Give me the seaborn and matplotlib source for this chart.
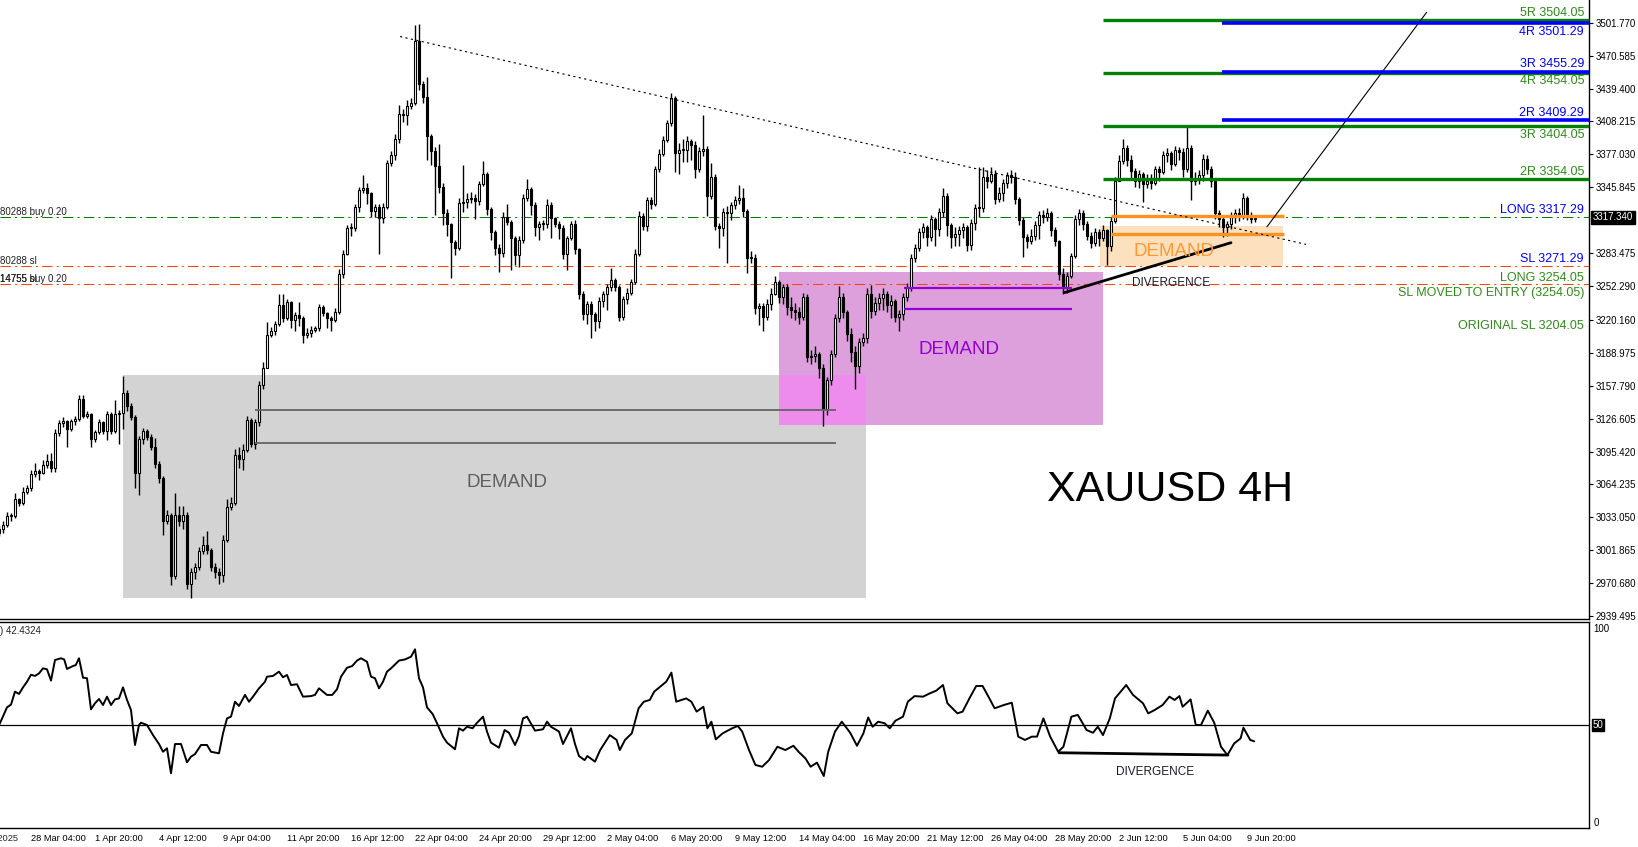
import matplotlib.pyplot as plt
import seaborn as sns
import numpy as np
import pandas as pd
from matplotlib.patches import Rectangle

sns.set_style("white")
plt.rcParams['font.family'] = ['Liberation Sans', 'DejaVu Sans']

# %% XAUUSD 4H candles (bar 0 = 26 Mar 20:00)
closes = [
    3022, 3026, 3034, 3034, 3050, 3047, 3057, 3061, 3074, 3077, 3075, 3083,
    3086, 3080, 3113, 3122, 3124, 3117, 3124, 3126, 3145, 3129, 3131, 3107,
    3114, 3123, 3115, 3131, 3115, 3131, 3132, 3151, 3139, 3128, 3075, 3107,
    3115, 3109, 3100, 3084, 3070, 3030, 3035, 2977, 3035, 3030, 3035, 2970,
    2981, 2986, 3001, 3007, 3002, 2986, 2981, 2978, 3012, 3043, 3047, 3092,
    3088, 3097, 3125, 3103, 3123, 3158, 3175, 3206, 3210, 3216, 3234, 3222,
    3237, 3220, 3225, 3222, 3206, 3208, 3211, 3212, 3232, 3227, 3222, 3220,
    3228, 3264, 3283, 3307, 3307, 3327, 3343, 3345, 3340, 3323, 3327, 3317,
    3327, 3369, 3376, 3392, 3415, 3414, 3423, 3426, 3484, 3444, 3431, 3394,
    3380, 3366, 3346, 3321, 3311, 3294, 3288, 3331, 3332, 3335, 3336, 3333,
    3349, 3358, 3325, 3303, 3288, 3284, 3318, 3313, 3298, 3282, 3296, 3336,
    3344, 3329, 3308, 3311, 3311, 3329, 3317, 3311, 3307, 3283, 3298, 3311,
    3287, 3245, 3226, 3235, 3226, 3219, 3238, 3245, 3251, 3258, 3251, 3223,
    3240, 3246, 3256, 3283, 3319, 3309, 3334, 3330, 3363, 3377, 3391, 3407,
    3430, 3378, 3381, 3381, 3390, 3386, 3363, 3380, 3382, 3338, 3356, 3309,
    3307, 3322, 3321, 3329, 3334, 3336, 3323, 3279, 3279, 3231, 3233, 3223, 3235,
    3245, 3256, 3242, 3251, 3232, 3230, 3228, 3223, 3242, 3185, 3186, 3188,
    3175, 3136, 3163, 3188, 3222, 3242, 3228, 3207, 3190, 3176, 3199, 3203,
    3245, 3229, 3236, 3241, 3245, 3234, 3238, 3223, 3226, 3242, 3251, 3279,
    3288, 3303, 3308, 3299, 3316, 3306, 3322, 3338, 3310, 3299, 3302, 3305,
    3308, 3291, 3312, 3326, 3326, 3356, 3352, 3358, 3335, 3340, 3350, 3357,
    3356, 3335, 3315, 3299, 3295, 3300, 3310, 3320, 3318, 3321, 3305, 3295,
    3264, 3251, 3262, 3281, 3316, 3321, 3311, 3300, 3293, 3303, 3298, 3305,
    3290, 3314, 3352, 3371, 3383, 3372, 3361, 3352, 3358, 3349, 3352, 3350,
    3363, 3360, 3376, 3378, 3368, 3381, 3379, 3363, 3383, 3352, 3354, 3357,
    3373, 3363, 3352, 3321, 3316, 3308, 3311, 3318, 3321, 3319, 3336, 3319,
    3316, 3317,
]
highs = [
    3026, 3030, 3038, 3037, 3056, 3051, 3062, 3064, 3078, 3085, 3079, 3087,
    3093, 3094, 3117, 3125, 3128, 3125, 3126, 3129, 3149, 3149, 3134, 3132,
    3116, 3126, 3124, 3134, 3133, 3144, 3135, 3167, 3154, 3141, 3130, 3110,
    3118, 3117, 3112, 3108, 3086, 3072, 3040, 3037, 3056, 3044, 3044, 3038,
    2985, 2990, 3005, 3015, 3020, 3004, 2990, 2985, 3016, 3050, 3052, 3098,
    3100, 3103, 3129, 3127, 3126, 3162, 3180, 3218, 3213, 3219, 3245, 3245,
    3240, 3238, 3228, 3237, 3224, 3212, 3214, 3214, 3235, 3234, 3228, 3224,
    3231, 3268, 3286, 3310, 3312, 3330, 3346, 3357, 3350, 3341, 3330, 3330,
    3331, 3372, 3380, 3396, 3424, 3420, 3429, 3430, 3500, 3501, 3447, 3450,
    3396, 3384, 3387, 3350, 3325, 3312, 3296, 3336, 3367, 3340, 3341, 3339,
    3352, 3371, 3360, 3327, 3305, 3292, 3322, 3330, 3315, 3300, 3300, 3339,
    3354, 3346, 3332, 3314, 3315, 3335, 3332, 3318, 3314, 3310, 3300, 3314,
    3315, 3288, 3248, 3238, 3238, 3228, 3242, 3248, 3254, 3269, 3260, 3253,
    3243, 3250, 3259, 3287, 3323, 3321, 3337, 3337, 3366, 3382, 3394, 3410,
    3435, 3432, 3388, 3392, 3394, 3392, 3390, 3384, 3414, 3385, 3369, 3358,
    3312, 3326, 3328, 3332, 3338, 3348, 3345, 3325, 3285, 3283, 3236, 3236, 3240,
    3250, 3262, 3258, 3254, 3254, 3242, 3236, 3232, 3246, 3245, 3192, 3195,
    3190, 3178, 3166, 3192, 3226, 3252, 3246, 3230, 3212, 3195, 3203, 3208,
    3250, 3253, 3242, 3246, 3250, 3248, 3244, 3240, 3230, 3246, 3255, 3283,
    3292, 3307, 3312, 3310, 3320, 3318, 3326, 3345, 3340, 3312, 3308, 3309,
    3312, 3310, 3316, 3330, 3365, 3365, 3362, 3365, 3362, 3346, 3354, 3360,
    3362, 3360, 3337, 3318, 3302, 3306, 3314, 3323, 3324, 3326, 3323, 3308,
    3296, 3269, 3266, 3284, 3320, 3325, 3324, 3314, 3303, 3307, 3306, 3310,
    3306, 3318, 3356, 3376, 3392, 3386, 3376, 3364, 3362, 3360, 3358, 3358,
    3366, 3366, 3380, 3383, 3380, 3385, 3384, 3383, 3403, 3386, 3360, 3362,
    3377, 3376, 3366, 3354, 3324, 3320, 3314, 3322, 3325, 3326, 3340, 3338,
    3322, 3320,
]
lows = [
    3015, 3018, 3024, 3030, 3032, 3044, 3045, 3055, 3058, 3071, 3068, 3074,
    3080, 3076, 3076, 3110, 3119, 3100, 3115, 3121, 3124, 3127, 3127, 3100,
    3104, 3112, 3112, 3106, 3112, 3113, 3103, 3117, 3134, 3125, 3061, 3054,
    3103, 3106, 3097, 3080, 3066, 3016, 3027, 2969, 2975, 3025, 3022, 2965,
    2957, 2975, 2983, 2998, 2998, 2982, 2976, 2970, 2972, 3010, 3040, 3045,
    3080, 3078, 3095, 3100, 3098, 3120, 3155, 3177, 3204, 3206, 3214, 3218,
    3220, 3212, 3210, 3214, 3198, 3203, 3204, 3209, 3210, 3224, 3212, 3210,
    3218, 3226, 3260, 3282, 3300, 3304, 3322, 3340, 3330, 3318, 3318, 3283,
    3312, 3325, 3366, 3372, 3388, 3408, 3405, 3420, 3424, 3438, 3426, 3372,
    3367, 3320, 3340, 3310, 3300, 3260, 3282, 3286, 3322, 3326, 3331, 3316,
    3329, 3347, 3320, 3296, 3282, 3266, 3280, 3310, 3267, 3272, 3270, 3293,
    3333, 3320, 3300, 3296, 3305, 3307, 3298, 3308, 3297, 3278, 3267, 3296,
    3283, 3240, 3220, 3216, 3203, 3210, 3212, 3232, 3230, 3248, 3248, 3219,
    3220, 3235, 3244, 3254, 3281, 3305, 3304, 3325, 3328, 3360, 3375, 3389,
    3404, 3360, 3358, 3370, 3370, 3372, 3355, 3360, 3375, 3319, 3335, 3305,
    3288, 3300, 3274, 3315, 3325, 3330, 3318, 3265, 3274, 3226, 3215, 3210, 3220,
    3230, 3244, 3236, 3235, 3225, 3222, 3220, 3216, 3220, 3180, 3178, 3180,
    3165, 3120, 3130, 3158, 3185, 3218, 3222, 3200, 3180, 3155, 3170, 3195,
    3198, 3222, 3225, 3230, 3230, 3228, 3222, 3218, 3210, 3220, 3238, 3248,
    3275, 3285, 3298, 3290, 3295, 3290, 3300, 3318, 3300, 3288, 3290, 3290,
    3298, 3285, 3286, 3305, 3318, 3322, 3345, 3350, 3330, 3332, 3333, 3345,
    3350, 3330, 3310, 3280, 3288, 3292, 3296, 3297, 3312, 3314, 3300, 3290,
    3258, 3245, 3246, 3260, 3279, 3310, 3305, 3296, 3288, 3290, 3290, 3295,
    3272, 3285, 3312, 3352, 3368, 3366, 3355, 3346, 3345, 3332, 3345, 3344,
    3348, 3352, 3358, 3370, 3362, 3366, 3372, 3356, 3360, 3334, 3348, 3349,
    3352, 3358, 3346, 3316, 3308, 3299, 3300, 3306, 3312, 3314, 3316, 3315,
    3312, 3313,
]
first_open = 3018

# RSI line vertices (bar, value)
rsi_bar = [0, 2, 3, 4, 5, 6, 7, 8, 9, 10, 11, 12, 13, 14, 15.5, 16.3, 17, 18.5, 19.2, 20,
           21, 22, 23, 24, 25, 26, 27, 28, 29, 30, 31, 32, 33, 34, 35, 35.5, 37, 38.5, 40, 41,
           42, 43, 44, 45.5, 47, 48, 49, 50.5, 52, 53, 55, 56, 57, 58, 59, 60, 61.5, 62.5, 63.5, 65,
           66.5, 67, 68.5, 70, 71, 72, 73, 74.5, 76, 78, 79, 80, 82, 83.3, 84.5, 85.5, 87, 88.3, 89.5, 90.5,
           92, 93, 94, 95, 96, 97, 98, 100, 101.5, 103, 104, 105, 106, 107, 108.4, 109.5, 111, 112, 114, 115,
           116, 117, 118.4, 119.4, 121, 122, 123, 125, 126.4, 127.5, 129, 130, 131, 132, 134, 136, 137, 138, 140, 141,
           143, 144, 145, 146.4, 147.1, 149, 150.3, 152.7, 154.4, 155.2, 156.5, 158.2, 159.9, 161.2, 162.7, 163.8,
           166.8, 168.1, 169.3, 171.8, 173.1, 174.4, 176.1, 177.1, 178.1, 179.2, 180.9, 183.3, 184.7, 185.8, 187.5, 189.1,
           190.8, 192.5, 194.6, 196.6, 198.6, 199.9, 201.6, 202.9, 204.5, 206.2, 207.3, 209, 210.7, 212.8, 214.5, 216.1,
           217.3, 218.4, 219.8, 221.4, 222.7, 224.1, 226, 227.2, 228.9, 231, 232.7, 234.3, 236, 237.1, 239.6, 240.9,
           242.6, 244.3, 245.9, 247.6, 248.9, 251.2, 253.2, 254.8, 256.5, 258.2, 259.5, 261.1, 262.8, 264.8, 266.1, 268.1,
           269.7, 271.9, 273.5, 274.7, 276, 277.7, 279, 281.8, 283.5, 286, 287.3, 288.9, 290.9, 292.6, 293.9, 295.1,
           295.9, 297.9, 299.2, 300.5, 302.2, 303.8, 305.5, 307.1, 308.8, 310.4, 311.1, 312.8, 313.8]
rsi_val = [49.8, 59.1, 60.5, 67.2, 66.0, 69.4, 72.3, 75.9, 75.3, 76.6, 79.2, 78.7, 72.9, 83.5, 84.4, 83.8, 78.9, 80.4, 80.9, 84.4,
           74.4, 74.1, 58.1, 61.2, 63.4, 60.3, 64.6, 60.3, 63.2, 63.7, 69.4, 62.9, 57.7, 39.7, 50.0, 51.2, 50.0, 44.8, 40.2, 36.2,
           38.0, 25.1, 40.2, 40.2, 30.8, 33.7, 35.0, 39.7, 39.7, 36.2, 35.4, 45.7, 53.4, 54.3, 62.0, 59.8, 65.5, 62.0, 64.6, 68.9,
           72.3, 74.9, 75.3, 77.5, 74.6, 75.8, 70.6, 71.0, 64.6, 64.9, 65.5, 68.9, 65.5, 65.5, 68.4, 74.9, 79.5, 80.4, 83.2, 84.4,
           82.6, 74.9, 74.1, 68.9, 72.3, 77.5, 79.2, 83.2, 83.8, 85.2, 89.0, 74.1, 69.4, 59.1, 55.7, 50.9, 44.0, 40.9, 37.5, 48.3,
           47.1, 49.1, 48.3, 50.9, 54.3, 46.6, 40.9, 38.3, 47.4, 46.0, 39.7, 44.3, 53.4, 54.3, 47.1, 47.8, 51.7, 49.1, 46.6, 40.2,
           48.3, 40.2, 34.0, 31.9, 34.0, 31.1, 37.1, 44.8, 42.3, 37.1, 42.3, 45.7, 58.6, 62.0, 62.9, 67.2,
           72.3, 77.0, 62.0, 63.7, 62.0, 56.9, 59.4, 48.3, 51.7, 42.6, 45.7, 48.3, 49.5, 46.6, 37.1, 29.4,
           28.5, 31.9, 38.8, 37.1, 39.3, 36.2, 32.8, 28.5, 30.6, 23.7, 36.2, 46.6, 51.7, 46.0, 39.3, 45.7,
           53.9, 49.1, 51.7, 50.9, 48.3, 52.2, 54.3, 62.0, 64.9, 64.6, 66.3, 67.7, 70.6, 61.2, 56.0, 56.9,
           63.7, 70.1, 70.1, 63.7, 58.6, 60.3, 61.5, 44.0, 42.3, 44.0, 44.0, 53.4, 44.0, 36.2, 38.8, 54.3,
           55.2, 47.4, 46.0, 49.1, 44.8, 53.4, 63.7, 70.6, 65.5, 61.2, 56.0, 57.7, 60.3, 64.6, 62.9, 64.9,
           59.4, 63.2, 50.0, 50.0, 57.4, 51.2, 38.8, 34.5, 40.5, 43.1, 48.6, 42.3, 41.6]

date_labels = ['28 Mar 04:00', '1 Apr 20:00', '4 Apr 12:00', '9 Apr 04:00', '11 Apr 20:00',
               '16 Apr 12:00', '22 Apr 04:00', '24 Apr 20:00', '29 Apr 12:00', '2 May 04:00',
               '6 May 20:00', '9 May 12:00', '14 May 04:00', '16 May 20:00', '21 May 12:00',
               '26 May 04:00', '28 May 20:00', '2 Jun 12:00', '5 Jun 04:00', '9 Jun 20:00']
date_bars = [8, 24, 40, 56, 72, 88, 104, 120, 136, 152, 168, 184, 200, 216, 232, 248, 264, 280, 296, 312]
price_ticks = [3501.770, 3470.585, 3439.400, 3408.215, 3377.030, 3345.845, 3283.475, 3252.290,
               3220.160, 3188.975, 3157.790, 3126.605, 3095.420, 3064.235, 3033.050, 3001.865,
               2970.680, 2939.495]

green_levels = [3504.05, 3454.05, 3404.05, 3354.05]
blue_levels = [3501.29, 3455.29, 3409.29]
right_notes = [('5R 3504.05', 3510.7, 'g'), ('4R 3501.29', 3492.7, 'b'), ('3R 3455.29', 3462.6, 'b'),
               ('4R 3454.05', 3446.5, 'g'), ('2R 3409.29', 3415.9, 'b'), ('3R 3404.05', 3395.6, 'g'),
               ('2R 3354.05', 3360.6, 'g'), ('LONG 3317.29', 3324.3, 'b'), ('SL 3271.29', 3277.8, 'b'),
               ('LONG 3254.05', 3259.5, 'g'), ('SL MOVED TO ENTRY (3254.05)', 3245.3, 'g'),
               ('ORIGINAL SL 3204.05', 3214.3, 'g')]

# %%
df = pd.DataFrame({'close': closes, 'high': highs, 'low': lows})
df['open'] = df['close'].shift(1).fillna(first_open)
df['bar'] = np.arange(len(df))
df['high'] = df[['high', 'open', 'close']].max(axis=1)
df['low'] = df[['low', 'open', 'close']].min(axis=1)
df['bull'] = df['close'] >= df['open']

W, H = 1638, 847
fig = plt.figure(figsize=(W / 100, H / 100), dpi=100)
ax = fig.add_axes([0, (H - 619) / H, 1589 / W, 619 / H])
ax2 = fig.add_axes([0, (H - 828) / H, 1589 / W, 206 / H])

XMAX = 397.5
for a in (ax, ax2):
    a.set_xlim(0.25, XMAX)
    a.set_facecolor('white')
    a.spines['left'].set_visible(False)
    for s in ('right', 'bottom', 'top'):
        a.spines[s].set_color('black')
        a.spines[s].set_linewidth(1.0)
ax.spines['top'].set_visible(False)
ax.set_ylim(2936.7, 3523.3)
ax2.set_ylim(-3.09, 103.09)

# zones
GREEN = '#008000'
ax.add_patch(Rectangle((31.0, 2956.3), 185.75, 211.3, facecolor='#d3d3d3', edgecolor='none', zorder=0))
ax.add_patch(Rectangle((195.1, 3120.3), 80.9, 145.1, facecolor='#dda0dd', edgecolor='none', zorder=0.1))
ax.add_patch(Rectangle((195.1, 3120.3), 21.65, 47.3, facecolor='#ee8cee', edgecolor='none', zorder=0.2))
ax.add_patch(Rectangle((275.15, 3271.5), 45.75, 37.2, facecolor='#fde0bd', edgecolor='none', zorder=0.1))

# trade lines
ls_dd = (0, (10, 4, 2, 4))
ax.axhline(3317.29, color=GREEN, lw=0.75, ls=ls_dd, zorder=1)
ax.axhline(3271.29, color='#ff4500', lw=0.75, ls=ls_dd, zorder=1)
ax.axhline(3254.05, color='#ff4500', lw=0.75, ls=ls_dd, zorder=1)

# candles
ax.vlines(df['bar'], df['low'], df['high'], color='black', lw=1.0, zorder=2.5)
body_lo = df[['open', 'close']].min(axis=1)
body_h = (df['close'] - df['open']).abs().clip(lower=0.8)
ax.bar(df['bar'], body_h, bottom=body_lo, width=0.55,
       color=np.where(df['bull'], 'white', 'black'), edgecolor='black', linewidth=0.8, zorder=3)

# drawn objects
ax.hlines([3134.6, 3103.2], 64, 209.25, color='#646464', lw=1.3, zorder=4)
ax.hlines([3250.6, 3230.7], 226.3, 268.2, color='#9400d3', lw=1.6, zorder=4)
ax.hlines([3318.6, 3301.5], 277.9, 321.25, color='#f7931e', lw=2.4, zorder=4)
ax.hlines(green_levels, 276, XMAX, color=GREEN, lw=2.4, zorder=4)
ax.hlines(blue_levels, 305.75, XMAX, color='#0000ff', lw=2.6, zorder=4.1)
ax.plot([100.25, 326.75], [3488.7, 3291.7], color='black', lw=0.8, ls=(0, (2, 3)), zorder=4)
ax.plot([317, 356.9], [3308.4, 3511.6], color='black', lw=0.8, zorder=4)
ax.plot([266.25, 308], [3245.9, 3293.3], color='black', lw=2.0, zorder=4)

for t, p, c in right_notes:
    ax.text(396.25, p, t, ha='right', va='center', fontsize=9,
            color='#0000ff' if c == 'b' else '#2f8a1a', zorder=5)

ax.text(0.3, 3322.4, '80288 buy 0.20', fontsize=7, color='#222222', va='center', zorder=5)
ax.text(0.3, 3276.2, '80288 sl', fontsize=7, color='#222222', va='center', zorder=5)
ax.text(0.3, 3258.9, '14755 buy 0.20', fontsize=7, color='#222222', va='center', zorder=5)
ax.text(0.3, 3258.9, '14755 sl', fontsize=7, color='#222222', va='center', zorder=5)

ax.text(127, 3066.5, 'DEMAND', fontsize=13.5, color='#5f5f5f', ha='center', va='center', zorder=5)
ax.text(240, 3192.5, 'DEMAND', fontsize=13.5, color='#9400d3', ha='center', va='center', zorder=5)
ax.text(293.75, 3285, 'DEMAND', fontsize=13.5, color='#ff9933', ha='center', va='center', zorder=5)
ax.text(293.1, 3255, 'DIVERGENCE', fontsize=8.5, color='#1a1a2e', ha='center', va='center', zorder=5)
ax.text(292.75, 3059, 'XAUUSD 4H', fontsize=31, color='black', ha='center', va='center', zorder=5)

# price axis
ax.set_xticks([])
ax.yaxis.tick_right()
ax.set_yticks(price_ticks)
ax.set_yticklabels([f'{v:.3f}' for v in price_ticks])
ax.tick_params(axis='y', direction='out', length=3, width=0.8, pad=2, labelsize=7, colors='black')
ax.text(398.4, 3317.34, '3317.340', fontsize=7, color='white', va='center', ha='left',
        bbox=dict(facecolor='black', edgecolor='black', pad=1.2), clip_on=False, zorder=6)

# %% RSI panel
ax2.axhline(50, color='black', lw=0.9, zorder=1)
sns.lineplot(x=rsi_bar, y=rsi_val, ax=ax2, color='black', lw=1.4, sort=False, zorder=3)
ax2.plot([265, 307.25], [35.7, 34.5], color='black', lw=2.0, zorder=3)
ax2.text(289.1, 25.8, 'DIVERGENCE', fontsize=8.5, color='#1a1a2e', ha='center', va='center')
ax2.text(0.3, 98.5, ') 42.4324', fontsize=7, color='#222222', ha='left', va='center')
ax2.set_xlabel('')
ax2.set_ylabel('')
ax2.yaxis.tick_right()
ax2.set_yticks([100, 0])
ax2.set_yticklabels(['100', '0'])
ax2.tick_params(axis='y', direction='out', length=0, pad=3, labelsize=7, colors='black')
ax2.text(398.4, 50, '50', fontsize=7, color='white', va='center', ha='left',
         bbox=dict(facecolor='black', edgecolor='black', pad=0.8), clip_on=False)
ax2.set_xticks(date_bars)
ax2.set_xticklabels(date_labels, ha='left')
ax2.tick_params(axis='x', direction='out', length=3, width=0.8, pad=1.5, labelsize=6.7, colors='black')
ax2.annotate('26 Mar 2025', xy=(4.75, 0), xycoords=('data', 'axes fraction'),
             xytext=(0, -4.5), textcoords='offset points', fontsize=6.7, ha='right', va='top')

fig.savefig('out.png', dpi=100)
